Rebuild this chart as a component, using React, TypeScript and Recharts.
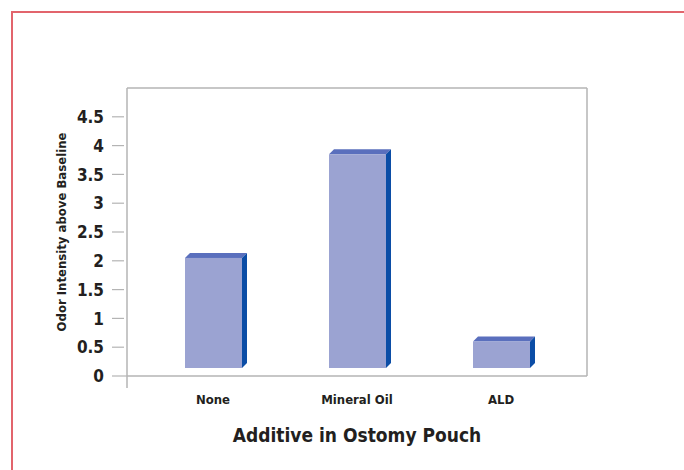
import React from 'react'
import { BarChart, Bar, XAxis, YAxis, CartesianGrid } from 'recharts'

const categories = ['None', 'Mineral Oil', 'ALD']
const odorValues = [2.05, 3.85, 0.6]
const yTicks = [0, 0.5, 1, 1.5, 2, 2.5, 3, 3.5, 4, 4.5]

const data = categories.map((name, i) => ({ name, odor: odorValues[i] }))

const FONT = "'DejaVu Sans Condensed', 'Liberation Sans Narrow', sans-serif"
const FRONT = '#9ba3d2'
const TOP = '#5a6fbd'
const SIDE = '#0b4da6'
const AXIS = '#b4b4b4'

// 3D-ish column: front face lifted off the floor, top + right side offset
function Column3D(props: any) {
  const { x, y, width, height } = props
  if (height == null || width == null) return null
  const d = 5
  const bottom = y + height - 8
  return (
    <g>
      <polygon
        points={`${x},${y} ${x + d},${y - d} ${x + width + d},${y - d} ${x + width},${y}`}
        fill={TOP}
      />
      <polygon
        points={`${x + width},${y} ${x + width + d},${y - d} ${x + width + d},${bottom - d} ${x + width},${bottom}`}
        fill={SIDE}
      />
      <rect x={x} y={y} width={width} height={bottom - y} fill={FRONT} />
    </g>
  )
}

function YTick(props: any) {
  const { x, y, payload } = props
  const isZero = payload.value === 0
  return (
    <g>
      <line x1={x - 15} y1={y} x2={isZero ? x : x - 3} y2={y} stroke={AXIS} strokeWidth={1.2} />
      {isZero && <line x1={x} y1={y} x2={x} y2={y + 12} stroke={AXIS} strokeWidth={1.5} />}
      <text
        x={x - 23}
        y={y}
        dy="0.36em"
        textAnchor="end"
        fontFamily={FONT}
        fontWeight="bold"
        fontSize={17}
        fill="#231f20"
      >
        {payload.value}
      </text>
    </g>
  )
}

export default function App() {
  return (
    <div style={{ position: 'fixed', left: 0, top: 0, width: 684, height: 470, background: '#fff', overflow: 'hidden' }}>
      <div
        style={{
          position: 'absolute',
          left: 11,
          top: 11,
          width: 700,
          height: 500,
          border: '2px solid #e2646c',
        }}
      />
      <div style={{ position: 'absolute', left: 0, top: 0 }}>
        <BarChart
          width={684}
          height={470}
          data={data}
          margin={{ top: 88, right: 97, bottom: 0, left: 0 }}
          barSize={57}
        >
          {/* top and right edges of the plot frame */}
          <CartesianGrid
            stroke={AXIS}
            strokeWidth={1.5}
            horizontalCoordinatesGenerator={({ offset }: any) => [offset.top]}
            verticalCoordinatesGenerator={({ offset }: any) => [offset.left + offset.width]}
          />
          <XAxis
            dataKey="name"
            height={94}
            padding={{ left: 14, right: 14 }}
            tickLine={false}
            tickSize={0}
            tickMargin={19}
            axisLine={{ stroke: AXIS, strokeWidth: 1.5 }}
            tick={{ fontFamily: FONT, fontWeight: 'bold', fontSize: 13, fill: '#231f20' }}
            label={{
              content: ({ viewBox }: any) => (
                <text
                  x={viewBox.x + viewBox.width / 2}
                  y={viewBox.y + 66}
                  textAnchor="middle"
                  fontFamily={FONT}
                  fontWeight="bold"
                  fontSize={19}
                  fill="#231f20"
                >
                  Additive in Ostomy Pouch
                </text>
              ),
            }}
          />
          <YAxis
            domain={[0, 5]}
            ticks={yTicks}
            width={127}
            tickSize={0}
            tickMargin={0}
            tickLine={false}
            axisLine={{ stroke: AXIS, strokeWidth: 1.5 }}
            tick={<YTick />}
            label={{
              content: ({ viewBox }: any) => {
                const cx = viewBox.x + 61
                const cy = viewBox.y + viewBox.height / 2
                return (
                  <text
                    x={cx}
                    y={cy}
                    transform={`rotate(-90 ${cx} ${cy})`}
                    textAnchor="middle"
                    dominantBaseline="central"
                    fontFamily={FONT}
                    fontWeight="bold"
                    fontSize={13}
                    fill="#231f20"
                  >
                    Odor Intensity above Baseline
                  </text>
                )
              },
            }}
          />
          <Bar dataKey="odor" shape={<Column3D />} isAnimationActive={false} />
        </BarChart>
      </div>
    </div>
  )
}
